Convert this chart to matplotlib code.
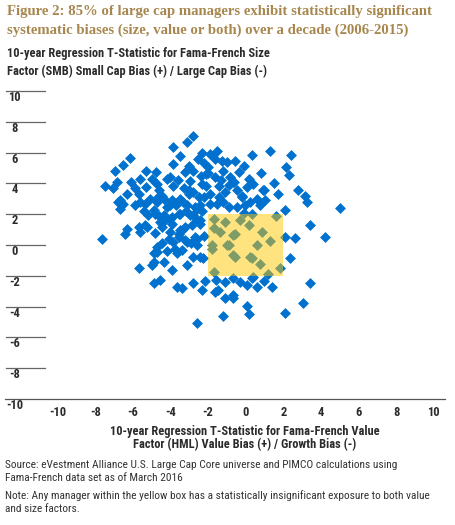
import matplotlib
matplotlib.use("Agg")
from matplotlib import pyplot as plt
from matplotlib import font_manager
from matplotlib.patches import Rectangle
import numpy as np

# value t-stat (HML) on x, size t-stat (SMB) on y
hml = [-3.87, -6.14, -6.50, -6.94, -5.29, -4.76, -7.47, -7.03, -6.82, -6.11,
       -5.29, -4.72, -3.84, -4.02, -5.70, -5.08, -5.35, -6.68, -6.53, -4.46,
       -4.19, -4.81, -6.32, -5.70, -5.26, -7.65,
       -2.78, -3.13, 0.33, -1.89, -3.48, -2.51, -1.62, -1.00, -0.56, -0.38,
       -1.18, -3.22, -2.78, -1.98, -4.19, -3.84, -2.95, -2.33, -1.62, -0.82,
       0.15, 0.06, 0.41, -2.78, -1.89, -1.09, -0.47, -3.48, -3.13, -2.42,
       -1.53, -0.91, -0.03, 0.60, -4.37, -3.48, -2.78, 0.33,
       1.30, 2.40, 2.15, 2.28, 1.74, 2.76, 3.16, 3.26, 5.03, 1.04,
       0.77, 2.10, 3.43, 4.23, -1.27,
       2.63, 2.37, 1.84, 3.43, 3.04, 2.10, 1.39, 0.95, 0.33, 0.06,
       -0.65, -1.09, -1.45, -1.62, -2.15, -2.33, -0.65, 0.06, 0.15, -1.21,
       -2.60, 2.10,
       -0.65, 0.86, 1.30, 0.33, 0.77, -0.65, -1.00, -1.71, -1.80, -1.36,
       -2.28, -1.71, -1.09, -0.56, -0.29, 0.15, -0.91, -0.56, 0.24, -1.80,
       0.60,
       -4.72, -4.46, -3.84, -3.22, -2.60, -3.66, -3.13, -3.57, -2.86, -2.42,
       -4.02, -4.90, -4.90, -4.37, -4.55, -3.66, -3.39, -2.78, -1.09, -0.65,
       -4.72, -4.02, -3.31, -2.60, -1.89, -1.18, -0.47, 0.24, -2.95, -4.02,
       -4.55,
       -6.41, -5.61, -4.72, -5.70, -4.99, -4.90, -2.42, -3.75, -3.13, -2.60,
       0.41,
       -6.77, -6.68, -5.61, -5.35, -5.17, -4.90, -4.28, -4.46, -3.57, -3.93,
       -3.22, -2.69, -2.42, -3.57, -2.69, -4.64, -3.93,
       -3.40, -2.20, -1.40, -0.20, -2.10, -3.00, -1.70, -0.70, 1.00, 1.60,
       -4.30, -3.70, -3.00, -2.50, -2.10, -1.40, -0.90, -0.20, -3.60, -2.40,
       -1.30, -0.60, -2.00, -3.00, -2.20, -3.30, -4.60, -5.00, -5.60, -5.90,
       -6.30, -5.90, -5.40, -4.60, -3.90, -3.20, -2.60, -2.30, -3.50, -4.10,
       -4.80, -2.90, -3.40, -2.80, -2.20, -4.20, -3.90, -1.60, -0.30, 0.60,
       1.20, -0.10, 0.90, 1.50, 0.80, -0.10, -1.50, -2.30]
smb = [6.34, 5.65, 5.19, 4.79, 4.83, 4.72, 3.86, 3.69, 4.12, 4.08,
       3.75, 3.97, 5.26, 4.40, 3.32, 3.00, 2.68, 2.89, 2.68, 3.21,
       2.46, 2.03, 1.06, 1.17, 1.17, 0.40,
       7.08, 6.66, 5.84, 5.90, 5.79, 5.58, 5.58, 5.37, 5.47, 4.76,
       4.83, 4.72, 4.83, 5.05, 4.29, 3.86, 4.18, 3.97, 4.40, 4.40,
       4.29, 3.75, 3.97, 3.43, 3.32, 3.43, 3.54, 3.00, 2.57, 2.57,
       2.68, 2.46, 2.57, 3.00, 1.92, 2.03, 1.92, 2.03,
       6.12, 5.84, 5.05, 4.55, 3.32, 3.58, 3.17, 2.79, 2.42, 2.89,
       2.57, 2.25, 1.28, 0.50, 5.47,
       0.46, -0.87, -1.52, -2.48, -3.75, -4.42, -2.70, -2.37, -2.16, -2.59,
       -2.16, -2.42, -2.92, -3.06, -2.37, -2.92, -3.41, -3.95, -4.50, -4.60,
       -5.06, 0.53,
       0.63, 0.85, 0.25, -0.83, -1.26, -0.66, -0.01, -1.73, -0.01, 0.85,
       -0.87, 1.71, 1.50, 0.74, 1.60, 1.28, -0.01, -0.76, -0.76, -0.23,
       -0.01,
       -0.12, 0.10, 0.21, 0.31, 0.42, -0.55, -1.30, 0.74, 1.28, 1.39,
       0.85, -0.55, -1.08, -1.08, -2.27, -2.70, -2.81, -2.48, -3.45, -3.24,
       2.79, 2.57, 2.79, 2.35, 2.68, 2.79, 2.46, 2.79, 1.92, 1.71,
       1.50,
       0.74, 0.85, -0.44, -1.47, -1.30, -2.48, -0.76, -0.23, 0.21, -0.01,
       -2.05,
       2.79, 2.35, 2.79, 1.28, 1.92, 2.25, 1.60, 1.17, 2.03, 1.39,
       1.17, 2.46, 1.60, 0.53, 0.53, 3.11, 2.89,
       1.00, 3.10, 3.80, 3.10, 4.60, 3.60, 1.10, 4.10, 3.60, 1.90,
       2.90, 2.60, 3.30, 3.10, 3.80, 3.10, 3.90, 3.20, 4.20, 4.50,
       4.20, 4.10, 4.70, 5.10, 5.30, 3.70, 3.60, 4.30, 4.30, 3.70,
       3.30, 2.60, 2.20, 1.90, 1.80, 2.20, 1.60, 2.20, 1.00, 0.40,
       0.80, 0.10, -0.30, -0.80, 0.60, -0.40, -1.60, -2.30, -2.40, -2.70,
       -1.90, 2.10, 3.60, 4.00, 4.70, 5.10, 6.10, 6.00]

xticks = [-10, -8, -6, -4, -2, 0, 2, 4, 6, 8, 10]
yticks = [10, 8, 6, 4, 2, 0, -2, -4, -6, -8, -10]

title = ["Figure 2: 85% of large cap managers exhibit statistically significant",
         "systematic biases (size, value or both) over a decade (2006-2015)"]
ytitle = ["10-year Regression T-Statistic for Fama-French Size",
          "Factor (SMB) Small Cap Bias (+) / Large Cap Bias (-)"]
xtitle = ["10-year Regression T-Statistic for Fama-French Value",
          "Factor (HML) Value Bias (+) / Growth Bias (-)"]
notes = ["Source: eVestment Alliance U.S. Large Cap Core universe and PIMCO calculations using",
         "Fama-French data set as of March 2016",
         "Note: Any manager within the yellow box has a statistically insignificant exposure to both value",
         "and size factors."]

W, H = 455, 525
blue = '#0071CE'
ink = '#2b2b2b'

# pick the narrowest sans we can find
names = {f.name for f in font_manager.fontManager.ttflist}
stretch = 'normal'
if 'Liberation Sans Narrow' in names:
    sans = 'Liberation Sans Narrow'
elif 'Roboto Condensed' in names:
    sans = 'Roboto Condensed'
elif any(f.name == 'DejaVu Sans' and f.stretch == 'condensed'
         for f in font_manager.fontManager.ttflist):
    sans = 'DejaVu Sans'
    stretch = 'condensed'
else:
    sans = 'Roboto'

fig = plt.figure(figsize=(W / 100, H / 100), dpi=100)
fig.canvas.draw()
rend = fig.canvas.get_renderer()

def fx(px):
    return px / W

def fy(py):
    return 1 - py / H

def fit_size(s, width, family, weight, base=10):
    # font size that makes string s about width px wide
    t = fig.text(0, 0, s, family=family, fontsize=base, fontweight=weight,
                 fontstretch=stretch)
    w = t.get_window_extent(rend).width
    t.remove()
    return base * width / w

# axes: x from -12.8 to 10.6 spans px 5..445, y from -10 to 10 spans px 91..399
ax = fig.add_axes([fx(5), fy(399), fx(445) - fx(5), fy(91) - fy(399)])
ax.set_xlim(-12.8, 10.6)
ax.set_ylim(-10, 10)
for s in ['top', 'right', 'left']:
    ax.spines[s].set_visible(False)
ax.spines['bottom'].set_color('#555555')
ax.spines['bottom'].set_linewidth(0.9)

ax.scatter(hml, smb, marker='D', s=31, color=blue, linewidths=0, zorder=2)
ax.add_patch(Rectangle((-2, -2), 4, 4, facecolor='#FFC800', alpha=0.5,
                       edgecolor='none', zorder=3))

# short rules over each y label
for t in yticks[:-1]:
    ax.plot([-12.75, -10.66], [t, t], color='#666666', lw=0.9, clip_on=False)

tick_fs = 9
ax.set_xticks(xticks)
ax.set_xticklabels([str(t) for t in xticks], family=sans, fontsize=tick_fs,
                   fontweight='bold', color=ink, fontstretch=stretch)
ax.tick_params(axis='x', length=0, pad=5)
ax.set_yticks([])
for t in yticks:
    ax.text(-12.29, t - 0.42, str(t), ha='center', va='center', family=sans,
            fontsize=tick_fs, fontweight='bold', color=ink, clip_on=False,
            fontstretch=stretch)

title_fs = fit_size(title[0], 426, 'Liberation Serif', 'bold')
for py, line in zip([12, 30], title):
    fig.text(fx(7), fy(py), line, ha='left', va='center', family='Liberation Serif',
             fontsize=title_fs, fontweight='bold', color='#A8874F')

lab_fs = fit_size(ytitle[0], 261, sans, 'bold')
for py, line in zip([54, 71], ytitle):
    fig.text(fx(7), fy(py), line, ha='left', va='center', family=sans,
             fontsize=lab_fs, fontweight='bold', color=ink, fontstretch=stretch)
for py, line in zip([432, 445], xtitle):
    fig.text(fx(245), fy(py), line, ha='center', va='center', family=sans,
             fontsize=lab_fs, fontweight='bold', color=ink, fontstretch=stretch)

note_fs = fit_size(notes[2], 425, sans, 'normal')
for py, line in zip([465, 478, 496, 509], notes):
    fig.text(fx(5), fy(py), line, ha='left', va='center', family=sans,
             fontsize=note_fs, color='#333333', fontstretch=stretch)

fig.savefig('out.png', dpi=100)
